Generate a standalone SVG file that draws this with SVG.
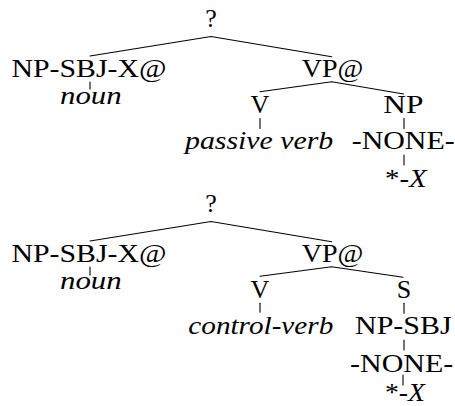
<svg xmlns="http://www.w3.org/2000/svg" width="455" height="406" viewBox="0 0 455 406">
  <style>
    text { font-family: "Liberation Serif", Tinos, "Times New Roman", Times, "Nimbus Roman", "Nimbus Roman No9 L", FreeSerif, "Noto Serif", "DejaVu Serif", "Bitstream Vera Serif", Georgia, serif; font-size: 26px; fill: #000; }
    .it { font-style: italic; }
    .edge { stroke: #000; stroke-width: 1.1; fill: none; stroke-linecap: round; }
  </style>
  <rect width="455" height="406" fill="#fff"/>

  <!-- connectors of both trees -->
  <g id="connectors">
    <!-- upper tree: passive -->
    <polyline class="edge" points="90,56 211,36.5 331.7,56.7"/>
    <line class="edge" x1="90" y1="82" x2="90" y2="89"/>
    <polyline class="edge" points="260,91.7 331.7,81.7 403.5,94"/>
    <line class="edge" x1="260" y1="118.5" x2="260" y2="128.5"/>
    <line class="edge" x1="404" y1="118.5" x2="404" y2="128.5"/>
    <line class="edge" x1="404" y1="155" x2="404" y2="165"/>
    <!-- lower tree: control -->
    <polyline class="edge" points="90,241 211,221.5 331.7,241.7"/>
    <line class="edge" x1="90" y1="267" x2="90" y2="275"/>
    <polyline class="edge" points="260,276.3 331.7,266.7 403,277.3"/>
    <line class="edge" x1="260" y1="303.3" x2="260" y2="312.3"/>
    <line class="edge" x1="404" y1="303.3" x2="404" y2="313.3"/>
    <line class="edge" x1="404" y1="340" x2="404" y2="350"/>
    <line class="edge" x1="403" y1="375" x2="403" y2="385"/>
  </g>

  <!-- upper tree nodes -->
  <g id="t1-root"><text x="211" y="27" text-anchor="middle">?</text></g>
  <g id="t1-subj"><text x="11.5" y="77.3" textLength="155" lengthAdjust="spacingAndGlyphs">NP-SBJ-X@</text></g>
  <g id="t1-noun"><text class="it" x="60" y="103.7" textLength="61.7" lengthAdjust="spacingAndGlyphs">noun</text></g>
  <g id="t1-vp"><text x="301.7" y="77.3" textLength="61.6" lengthAdjust="spacingAndGlyphs">VP@</text></g>
  <g id="t1-v"><text x="260" y="113.3" text-anchor="middle">V</text></g>
  <g id="t1-np"><text x="383.3" y="113.3" textLength="40" lengthAdjust="spacingAndGlyphs">NP</text></g>
  <g id="t1-verb"><text class="it" x="185" y="149" textLength="148.3" lengthAdjust="spacingAndGlyphs">passive verb</text></g>
  <g id="t1-none"><text x="351.7" y="149" textLength="103" lengthAdjust="spacingAndGlyphs">-NONE-</text></g>
  <g id="t1-trace"><text x="385" y="186.7" textLength="41.7" lengthAdjust="spacingAndGlyphs">*-<tspan class="it">X</tspan></text></g>

  <!-- lower tree nodes -->
  <g id="t2-root"><text x="211" y="212" text-anchor="middle">?</text></g>
  <g id="t2-subj"><text x="11.5" y="262" textLength="155" lengthAdjust="spacingAndGlyphs">NP-SBJ-X@</text></g>
  <g id="t2-noun"><text class="it" x="60" y="288.5" textLength="61.7" lengthAdjust="spacingAndGlyphs">noun</text></g>
  <g id="t2-vp"><text x="301.7" y="261.7" textLength="61.6" lengthAdjust="spacingAndGlyphs">VP@</text></g>
  <g id="t2-v"><text x="260" y="298.3" text-anchor="middle">V</text></g>
  <g id="t2-s"><text x="404" y="298.3" text-anchor="middle">S</text></g>
  <g id="t2-verb"><text class="it" x="188.3" y="334" textLength="145" lengthAdjust="spacingAndGlyphs">control-verb</text></g>
  <g id="t2-npsbj"><text x="355" y="334" textLength="96.7" lengthAdjust="spacingAndGlyphs">NP-SBJ</text></g>
  <g id="t2-none"><text x="350" y="371.7" textLength="103.3" lengthAdjust="spacingAndGlyphs">-NONE-</text></g>
  <g id="t2-trace"><text x="385" y="401" textLength="40" lengthAdjust="spacingAndGlyphs">*-<tspan class="it">X</tspan></text></g>
</svg>
